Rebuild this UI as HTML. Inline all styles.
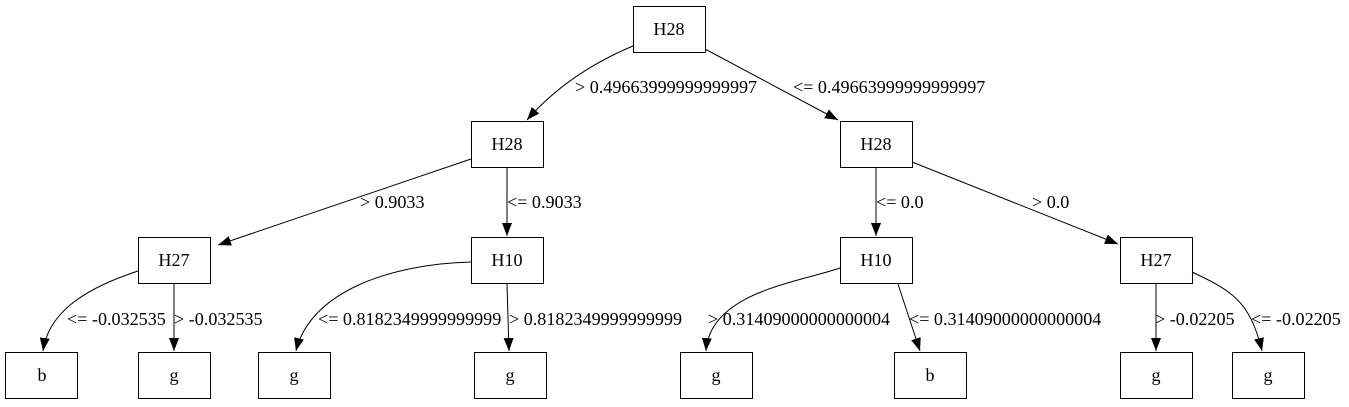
<!DOCTYPE html>
<html><head><meta charset="utf-8"><style>
html,body{margin:0;padding:0;background:#fff;}
svg{display:block;}
text{font-family:"Liberation Serif","Times New Roman",serif;font-size:18.1px;fill:#000;}
</style></head><body>
<svg width="1349" height="407" viewBox="0 0 1349 407" xmlns="http://www.w3.org/2000/svg">
<defs><marker id="a" markerWidth="13" markerHeight="10" refX="13" refY="5" orient="auto" markerUnits="userSpaceOnUse"><path d="M0,0 L13,5 L0,10 Z" fill="#000"/></marker></defs>
<g fill="#fff" stroke="#000" stroke-width="1">
<rect x="633.5" y="6.5" width="72" height="46"/>
<rect x="471.5" y="121.5" width="72" height="46"/>
<rect x="840.5" y="121.5" width="72" height="46"/>
<rect x="138.5" y="237.5" width="72" height="46"/>
<rect x="471.5" y="237.5" width="72" height="46"/>
<rect x="840.5" y="237.5" width="72" height="46"/>
<rect x="1120.5" y="237.5" width="72" height="46"/>
<rect x="5.5" y="352.5" width="72" height="46"/>
<rect x="138.5" y="352.5" width="72" height="46"/>
<rect x="258.5" y="352.5" width="72" height="46"/>
<rect x="474.5" y="352.5" width="72" height="46"/>
<rect x="680.5" y="352.5" width="72" height="46"/>
<rect x="894.5" y="352.5" width="72" height="46"/>
<rect x="1120.5" y="352.5" width="72" height="46"/>
<rect x="1232.5" y="352.5" width="72" height="46"/>
</g>
<g fill="none" stroke="#000" stroke-width="1" marker-end="url(#a)">
<path d="M633,46 C590,64 555,88 527,120"/>
<path d="M705,49 L838,120"/>
<path d="M471,159 L218,245"/>
<path d="M507,168 L507,236"/>
<path d="M876,168 L876,236"/>
<path d="M912,162 L1118,244"/>
<path d="M138,271 C80,290 48,315 43,351"/>
<path d="M174,284 L174,351"/>
<path d="M471,262 C390,264 310,292 296,351"/>
<path d="M507,284 L509,351"/>
<path d="M840,268 C800,282 710,292 706,351"/>
<path d="M898,284 L920,351"/>
<path d="M1156,284 L1156,351"/>
<path d="M1192,272 C1230,290 1250,300 1262,351"/>
</g>
<g text-anchor="middle">
<text x="669" y="35">H28</text>
<text x="507" y="150">H28</text>
<text x="876" y="150">H28</text>
<text x="174" y="266">H27</text>
<text x="507" y="266">H10</text>
<text x="876" y="266">H10</text>
<text x="1156" y="266">H27</text>
<text x="42" y="381">b</text>
<text x="174" y="381">g</text>
<text x="294" y="381">g</text>
<text x="510" y="381">g</text>
<text x="716" y="381">g</text>
<text x="930" y="381">b</text>
<text x="1156" y="381">g</text>
<text x="1268" y="381">g</text>
</g>
<g>
<text x="575" y="93">&gt; 0.49663999999999997</text>
<text x="793" y="93">&lt;= 0.49663999999999997</text>
<text x="360" y="208">&gt; 0.9033</text>
<text x="507" y="208">&lt;= 0.9033</text>
<text x="876" y="208">&lt;= 0.0</text>
<text x="1032" y="208">&gt; 0.0</text>
<text x="67" y="325">&lt;= -0.032535</text>
<text x="174" y="325">&gt; -0.032535</text>
<text x="318" y="325">&lt;= 0.8182349999999999</text>
<text x="509" y="325">&gt; 0.8182349999999999</text>
<text x="708" y="325">&gt; 0.31409000000000004</text>
<text x="909" y="325">&lt;= 0.31409000000000004</text>
<text x="1155" y="325">&gt; -0.02205</text>
<text x="1251" y="325">&lt;= -0.02205</text>
</g>
</svg>
</body></html>
